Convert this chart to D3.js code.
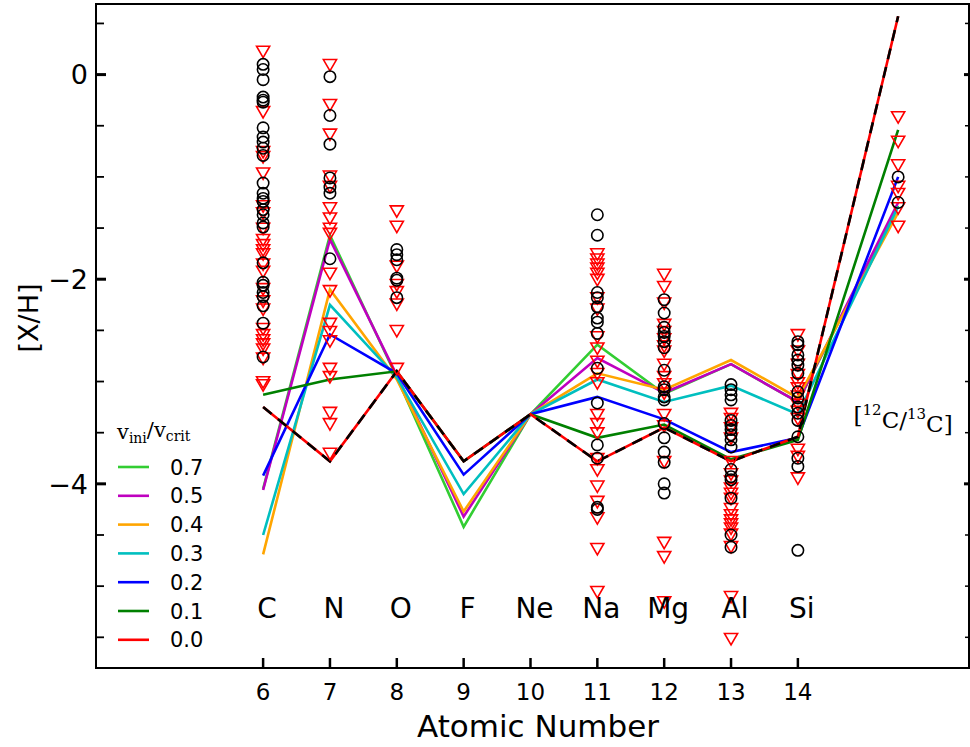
<!DOCTYPE html>
<html><head><meta charset="utf-8">
<script src="https://cdn.jsdelivr.net/npm/d3@7"></script>
<style>
body{margin:0;background:#fff;}
svg{display:block;}
</style></head>
<body>
<svg id="chart" width="970" height="747"></svg>
<script>
// ---------- data ----------
const elements = ["C","N","O","F","Ne","Na","Mg","Al","Si"];
const atomicNumbers = [6,7,8,9,10,11,12,13,14];
const xTickLabels = ["6","7","8","9","10","11","12","13","14"];
const ratioX = 15.5;
const ratioLabel = "12C/13C";
const modelX = [6,7,8,9,10,11,12,13,14,15.5];

const velocityLabels = ["0.7","0.5","0.4","0.3","0.2","0.1","0.0"];
const velocityColors = ["#32cd32","#bf00bf","#ffa500","#00bfbf","#0000ff","#008000","#ff0000"];
const v07 = [-4.05,-1.57,-2.96,-4.42,-3.32,-2.64,-3.12,-2.83,-3.20,-1.28];
const v05 = [-4.06,-1.61,-2.94,-4.32,-3.32,-2.77,-3.11,-2.83,-3.20,-1.25];
const v04 = [-4.69,-2.10,-2.98,-4.27,-3.32,-2.92,-3.08,-2.79,-3.16,-1.35];
const v03 = [-4.50,-2.25,-2.96,-4.10,-3.32,-2.98,-3.20,-3.04,-3.32,-1.29];
const v02 = [-3.92,-2.54,-2.92,-3.91,-3.32,-3.15,-3.37,-3.69,-3.55,-1.00];
const v01 = [-3.13,-2.98,-2.90,-3.78,-3.32,-3.55,-3.42,-3.76,-3.57,-0.54];
const v00 = [-3.25,-3.78,-2.90,-3.78,-3.32,-3.78,-3.45,-3.78,-3.54,0.57];
const modelSeries = [v07,v05,v04,v03,v02,v01,v00];

// observations: detections (circles) and upper limits (triangles)
const detC = [0.10,0.05,-0.05,-0.22,-0.25,-0.27,-0.52,-0.61,-0.66,-0.72,-0.79,-1.06,-1.16,-1.21,-1.24,-1.32,-1.37,-1.45,-1.49,-1.84,-2.03,-2.06,-2.13,-2.17,-2.26,-2.43,-2.76];
const limC = [0.24,-0.35,-0.74,-0.79,-0.95,-1.27,-1.34,-1.49,-1.60,-1.65,-1.70,-1.74,-1.84,-1.91,-2.08,-2.20,-2.28,-2.47,-2.53,-2.58,-2.62,-2.67,-2.76,-2.99,-3.02];
const detN = [-0.02,-0.40,-0.68,-1.01,-1.10,-1.16,-1.80];
const limN = [0.11,-0.28,-0.57,-0.98,-1.08,-1.29,-1.39,-1.49,-1.54,-1.93,-2.10,-2.42,-2.50,-2.59,-2.86,-2.94,-3.29,-3.40,-3.69];
const detO = [-1.71,-1.76,-1.81,-1.99,-2.01,-2.18];
const limO = [-1.32,-1.47,-1.86,-2.04,-2.11,-2.23,-2.49,-2.86];
const detNa = [-1.37,-1.57,-2.13,-2.18,-2.27,-2.38,-2.42,-2.53,-2.87,-3.21,-3.62,-3.75,-4.23,-4.25];
const limNa = [-1.74,-1.79,-1.84,-1.88,-1.93,-1.99,-2.17,-2.28,-2.55,-2.66,-2.79,-2.91,-3.00,-3.31,-3.40,-3.49,-3.74,-3.85,-4.01,-4.16,-4.32,-4.62,-5.04];
const detMg = [-2.20,-2.33,-2.47,-2.52,-2.56,-2.61,-2.67,-2.89,-3.05,-3.08,-3.15,-3.18,-3.41,-3.55,-3.69,-3.79,-4.00,-4.09];
const limMg = [-1.94,-2.06,-2.22,-2.43,-2.50,-2.57,-2.64,-2.69,-2.82,-2.94,-3.01,-3.10,-3.31,-3.42,-3.77,-4.56,-4.70,-5.14];
const detAl = [-3.03,-3.08,-3.13,-3.18,-3.38,-3.43,-3.47,-3.52,-3.57,-3.64,-3.86,-3.93,-3.96,-4.14,-4.50,-4.62];
const limAl = [-3.30,-3.35,-3.44,-3.54,-3.77,-3.89,-3.96,-4.03,-4.08,-4.13,-4.23,-4.29,-4.34,-4.38,-4.42,-4.48,-4.60,-5.09,-5.50];
const detSi = [-2.61,-2.64,-2.74,-2.79,-2.84,-2.92,-3.10,-3.16,-3.25,-3.31,-3.38,-3.54,-3.75,-3.83,-4.65];
const limSi = [-2.53,-2.69,-2.82,-2.92,-3.00,-3.05,-3.13,-3.21,-3.28,-3.35,-3.65,-3.72,-3.93];
const detRatio = [-1.00,-1.25];
const limRatio = [-0.40,-0.64,-0.87,-1.08,-1.15,-1.29,-1.47];

const yMajorTicks = [0,-2,-4];
const yMajorLabels = ["0","\u22122","\u22124"];
const yMinorTicks = [0.5,-0.5,-1,-1.5,-2.5,-3,-3.5,-4.5,-5,-5.5];

// ---------- build ----------
const detections = [
  [6,detC],[7,detN],[8,detO],[11,detNa],[12,detMg],[13,detAl],[14,detSi],[ratioX,detRatio]
].flatMap(([x,arr]) => arr.map(v => ({x, y:v})));
const limits = [
  [6,limC],[7,limN],[8,limO],[11,limNa],[12,limMg],[13,limAl],[14,limSi],[ratioX,limRatio]
].flatMap(([x,arr]) => arr.map(v => ({x, y:v})));

const svg = d3.select("#chart");
const L = 96, R = 969, T = 4, B = 668;
const x = d3.scaleLinear().domain([3.5, 16.56]).range([L, R]);
const y = d3.scaleLinear().domain([-5.8, 0.69]).range([B, T]);

const font = "DejaVu Sans, sans-serif";
const serif = "DejaVu Serif, Liberation Serif, serif";

// model lines
const line = d3.line().x((d,i) => x(modelX[i])).y(d => y(d));
modelSeries.forEach((vals, k) => {
  svg.append("path").datum(vals).attr("d", line)
    .attr("fill","none").attr("stroke", velocityColors[k])
    .attr("stroke-width", 2.6).attr("stroke-linejoin","miter");
});
svg.append("path").datum(v00).attr("d", line)
  .attr("fill","none").attr("stroke","#000")
  .attr("stroke-width", 2.6).attr("stroke-dasharray","11,8");

// observations
const tri = d3.symbol().type(d3.symbolTriangle).size(75);
svg.append("g").selectAll("path").data(limits).join("path")
  .attr("d", tri)
  .attr("transform", d => `translate(${x(d.x)},${y(d.y)}) rotate(180)`)
  .attr("fill","none").attr("stroke","#ff0000").attr("stroke-width",1.6);
svg.append("g").selectAll("circle").data(detections).join("circle")
  .attr("cx", d => x(d.x)).attr("cy", d => y(d.y)).attr("r", 5.7)
  .attr("fill","none").attr("stroke","#000").attr("stroke-width",1.6);

// element labels
svg.append("g").selectAll("text").data(elements).join("text")
  .attr("x", (d,i) => x(atomicNumbers[i]) + 4)
  .attr("y", y(-5.21))
  .attr("dy","0.36em")
  .attr("text-anchor","middle")
  .attr("font-family", font).attr("font-size", 28)
  .text(d => d);

// ratio label
const rl = svg.append("text")
  .attr("x", x(ratioX) + 5).attr("y", y(-3.33)).attr("dy","0.35em")
  .attr("text-anchor","middle").attr("font-family", serif).attr("font-size", 23);
const parts = ratioLabel.split("/");
rl.append("tspan").text("[");
rl.append("tspan").attr("font-size",15).attr("dy","-0.55em").text(parts[0].replace("C",""));
rl.append("tspan").attr("dy","0.55em").text("C/");
rl.append("tspan").attr("font-size",15).attr("dy","-0.55em").text(parts[1].replace("C",""));
rl.append("tspan").attr("dy","0.55em").text("C]");

// frame
svg.append("rect").attr("x",L).attr("y",T).attr("width",R-L).attr("height",B-T)
  .attr("fill","none").attr("stroke","#000").attr("stroke-width",2);

// x ticks (inward)
const xt = svg.append("g");
atomicNumbers.forEach((v,i) => {
  xt.append("line").attr("x1",x(v)).attr("x2",x(v)).attr("y1",B).attr("y2",B-10)
    .attr("stroke","#000").attr("stroke-width",2.5);
  xt.append("text").attr("x",x(v)).attr("y",B+32).attr("text-anchor","middle")
    .attr("font-family",font).attr("font-size",23).text(xTickLabels[i]);
});
// y ticks
yMajorTicks.forEach((v,i) => {
  svg.append("line").attr("x1",L).attr("x2",L+10).attr("y1",y(v)).attr("y2",y(v))
    .attr("stroke","#000").attr("stroke-width",3);
  svg.append("line").attr("x1",R-5).attr("x2",R).attr("y1",y(v)).attr("y2",y(v))
    .attr("stroke","#000").attr("stroke-width",3);
  svg.append("text").attr("x",L-8).attr("y",y(v)).attr("dy","0.36em")
    .attr("text-anchor","end").attr("font-family",font).attr("font-size",27).text(yMajorLabels[i]);
});
yMinorTicks.forEach(v => {
  svg.append("line").attr("x1",L).attr("x2",L+8).attr("y1",y(v)).attr("y2",y(v))
    .attr("stroke","#000").attr("stroke-width",1.8);
  svg.append("line").attr("x1",R-4).attr("x2",R).attr("y1",y(v)).attr("y2",y(v))
    .attr("stroke","#000").attr("stroke-width",1.5);
});

// axis titles
svg.append("text").attr("x",538).attr("y",737).attr("text-anchor","middle")
  .attr("font-family",font).attr("font-size",31).text("Atomic Number");
svg.append("text").attr("transform",`translate(38,${(T+B)/2 - 18}) rotate(-90)`)
  .attr("text-anchor","middle").attr("font-family",font).attr("font-size",27).text("[X/H]");

// legend
const lg = svg.append("g");
const title = lg.append("text").attr("x",117).attr("y",439).attr("font-family",serif).attr("font-size",21);
title.append("tspan").text("v");
title.append("tspan").attr("font-size",14).attr("dy","0.3em").text("ini");
title.append("tspan").attr("dy","-0.3em").text("/v");
title.append("tspan").attr("font-size",14).attr("dy","0.3em").text("crit");
velocityLabels.forEach((lab,i) => {
  const yy = 467 + i*28.8;
  lg.append("line").attr("x1",118).attr("x2",149).attr("y1",yy).attr("y2",yy)
    .attr("stroke",velocityColors[i]).attr("stroke-width",2.6);
  lg.append("text").attr("x",170).attr("y",yy).attr("dy","0.36em")
    .attr("font-family",font).attr("font-size",21).text(lab);
});
</script>
</body></html>
